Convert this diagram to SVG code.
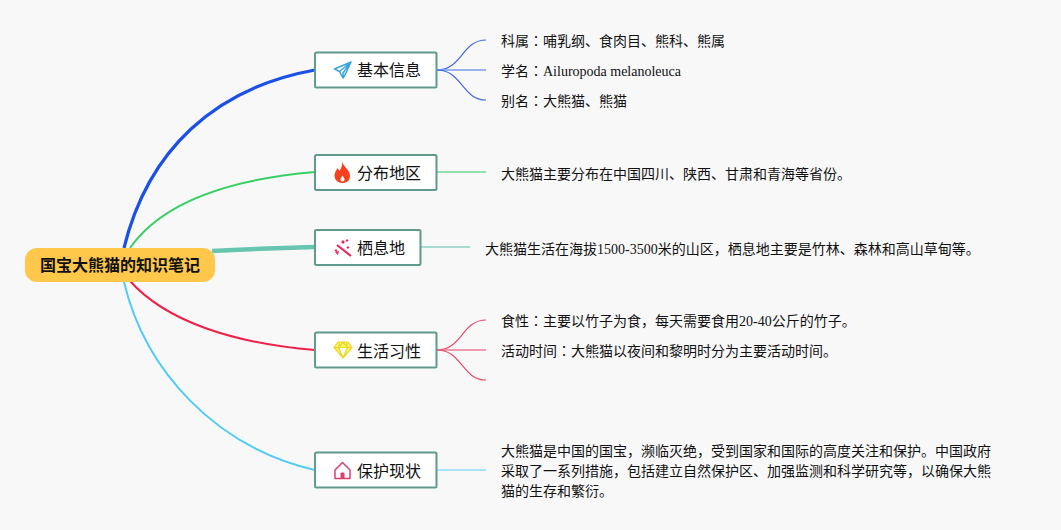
<svg xmlns="http://www.w3.org/2000/svg" width="1061" height="530" viewBox="0 0 1061 530">
<style>
text{font-family:"Liberation Serif","Noto Sans CJK SC",serif;font-size:14px;fill:#111}
.t{font-family:"Noto Sans CJK SC","Noto Sans",sans-serif;font-size:16px;fill:#111}
.k{font-family:"Noto Sans CJK TC",sans-serif}
.box{fill:#fff;stroke:#5f9a8c;stroke-width:2}
</style>
<rect width="1061" height="530" fill="#f8f8f9"/>
<g id="connectors" fill="none">
<path d="M124 248C148 150 215 88 315 70" stroke="#1a50e8" stroke-width="3.2"/>
<path d="M130 248C160 205 222 180 315 172" stroke="#36d060" stroke-width="2"/>
<path d="M212 251C250 249 280 248 315 247" stroke="#68c5b0" stroke-width="4.5"/>
<path d="M130 281C165 320 230 343 315 350" stroke="#ef2048" stroke-width="2"/>
<path d="M124 282C145 370 215 447 315 470" stroke="#50ccf5" stroke-width="2"/>
<g stroke-width="1.200">
<path d="M437 70C462 70 462 40 486 40" stroke="#3f68e0"/>
<path d="M437 70H486" stroke="#7e9be6" stroke-width="1.500"/>
<path d="M437 70C462 70 462 100 486 100" stroke="#3f68e0"/>
<path d="M437 172H486" stroke="#30c858"/>
<path d="M421 247H470" stroke="#58bca6"/>
<path d="M437 350C462 350 462 320 486 320" stroke="#e84a6c"/>
<path d="M437 350H486" stroke="#ea7d95" stroke-width="1.500"/>
<path d="M437 350C462 350 462 380 486 380" stroke="#e84a6c"/>
<path d="M437 470H486" stroke="#8fdcf5" stroke-width="1.500"/>
</g>
</g>
<g id="root">
<rect x="25" y="248" width="190" height="34" rx="12" fill="#ffc84a"/>
<text x="120" y="271" text-anchor="middle" style="font-family:'Noto Sans CJK SC',sans-serif;font-size:16px;font-weight:700;fill:#111">国宝大熊猫的知识笔记</text>
</g>
<g id="n1">
<rect class="box" x="315" y="52.500" width="121.500" height="35" rx="1.500"/>
<path d="M351 62L334.500 69L339.500 71.500L343 78L346 73ZM339.500 71.500L351 62L343 73V78" fill="none" stroke="#3ba3dc" stroke-width="1.500" stroke-linejoin="round"/>
<text class="t" x="357" y="76">基本信息</text>
</g>
<g id="n2">
<rect class="box" x="315" y="155" width="121.500" height="35" rx="1.500"/>
<path d="M342 162C344 167 350 170 350 176C350 180.500 346.500 183 342.500 183C338 183 334.500 180 334.500 175.500C334.500 172 336.500 170.500 337.500 168C338.500 169 339 170 339.200 171C341 169 342.500 166 342 162ZM342.500 175.500C341.500 177.500 340.500 178 340.500 179.500C340.500 180.500 341.500 181.500 342.500 181.500C343.500 181.500 344.500 180.500 344.500 179.500C344.500 178 343.500 177.500 342.500 175.500Z" fill="#f8401f" fill-rule="evenodd"/>
<text class="t" x="357" y="178.500">分布地区</text>
</g>
<g id="n3">
<rect class="box" x="315" y="230" width="105.500" height="35" rx="1.500"/>
<path d="M337 245L351 256" stroke="#e8285c" stroke-width="2.200" fill="none"/>
<path d="M335 252l4 -1 -1 4zM343 240l2 2 -2 2 -2 -2zM347 239l1.500 1.500 -1.500 1.500 -1.500 -1.500zM348 246l1.500 1.500 -1.500 1.500 -1.500 -1.500zM336 249l1.500 1.500 -1.500 1.500 -1.500 -1.500z" fill="#e8285c"/>
<text class="t" x="357" y="253.500">栖息地</text>
</g>
<g id="n4">
<rect class="box" x="315" y="332.500" width="121.500" height="35" rx="1.500"/>
<path d="M338 342H348L352 347.500L343 358L334 347.500ZM334 347.500H352M340 342L338.500 347.500L343 358L347.500 347.500L346 342M338.500 347.500L343 342L347.500 347.500" fill="#fff36a" stroke="#ecd820" stroke-width="1.200" stroke-linejoin="round"/>
<text class="t" x="357" y="356.500">生活习性</text>
</g>
<g id="n5">
<rect class="box" x="315" y="452.500" width="121.500" height="35" rx="1.500"/>
<path d="M335 470L342.500 462.500L350 470V478.500H335Z" fill="none" stroke="#df3f6d" stroke-width="1.500" stroke-linejoin="round"/>
<path d="M340.500 478V473.500Q342.500 471 344.500 473.500V478Z" fill="#df3f6d"/>
<text class="t" x="357" y="476.500">保护现状</text>
</g>
<g id="leaves">
<text x="501" y="46">科属<tspan class="k">：</tspan>哺乳纲、食肉目、熊科、熊属</text>
<text x="501" y="76">学名<tspan class="k">：</tspan>Ailuropoda melanoleuca</text>
<text x="501" y="106">别名<tspan class="k">：</tspan>大熊猫、熊猫</text>
<text x="501" y="179">大熊猫主要分布在中国四川、陕西、甘肃和青海等省份。</text>
<text x="485" y="254">大熊猫生活在海拔1500-3500米的山区，栖息地主要是竹林、森林和高山草甸等。</text>
<text x="501" y="326">食性<tspan class="k">：</tspan>主要以竹子为食，每天需要食用20-40公斤的竹子。</text>
<text x="501" y="356">活动时间<tspan class="k">：</tspan>大熊猫以夜间和黎明时分为主要活动时间。</text>
<text x="501" y="456">大熊猫是中国的国宝，濒临灭绝，受到国家和国际的高度关注和保护。中国政府</text>
<text x="501" y="476">采取了一系列措施，包括建立自然保护区、加强监测和科学研究等，以确保大熊</text>
<text x="501" y="496">猫的生存和繁衍。</text>
</g>
</svg>
